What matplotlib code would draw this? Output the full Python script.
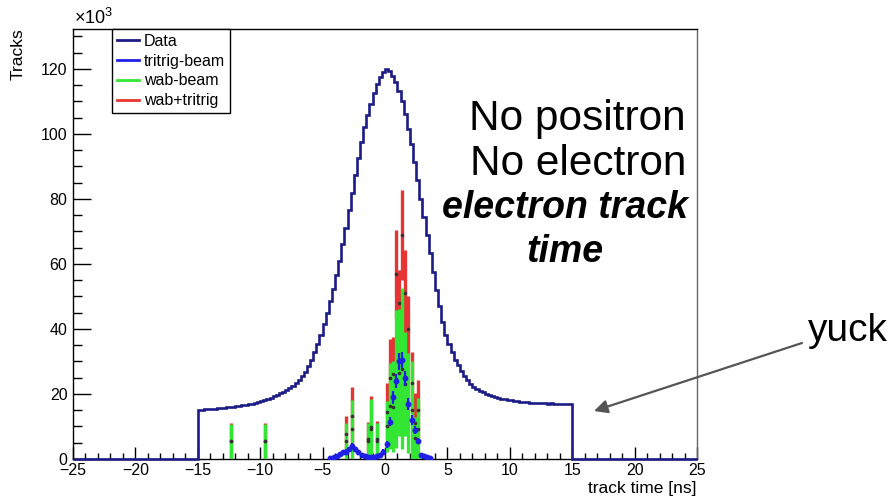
import matplotlib
matplotlib.use('Agg')
import matplotlib.pyplot as plt
from matplotlib.lines import Line2D
import numpy as np

plt.rcParams['font.family'] = ['Liberation Sans', 'DejaVu Sans']
plt.rcParams['mathtext.fontset'] = 'custom'
plt.rcParams['mathtext.rm'] = 'Liberation Sans'

W, H = 893, 498

# data: track time histogram, 0.25 ns bins from -15 to 15 ns, in 10^3 tracks
bin_w = 0.25
data_lo = -15.0
data_counts = [
    15.0, 15.2, 15.3, 15.4, 15.5, 15.5, 15.6, 15.7, 15.8, 15.9,
    16.0, 16.1, 16.2, 16.3, 16.5, 16.6, 16.8, 17.0, 17.2, 17.5,
    17.8, 18.2, 18.5, 18.9, 19.3, 19.7, 20.2, 20.7, 21.3, 21.9,
    22.6, 23.4, 24.3, 25.4, 26.8, 28.6, 30.6, 32.8, 35.3, 38.2,
    41.4, 44.9, 48.5, 52.4, 56.5, 61.0, 66.0, 71.0, 76.5, 81.8,
    87.3, 92.5, 97.6, 102.0, 105.9, 109.3, 112.5, 115.3, 117.6, 119.2,
    120.0, 119.3, 117.9, 116.0, 113.2, 110.0, 106.0, 101.6, 96.8, 91.5,
    85.8, 80.0, 74.5, 68.8, 63.5, 57.6, 52.0, 47.0, 42.3, 38.2,
    35.3, 32.8, 30.6, 28.8, 27.0, 25.5, 24.2, 23.2, 22.3, 21.6,
    21.0, 20.5, 20.1, 19.7, 19.4, 19.1, 18.8, 18.6, 18.4, 18.2,
    18.0, 17.9, 17.7, 17.6, 17.5, 17.4, 17.3, 17.3, 17.2, 17.2,
    17.1, 17.1, 17.0, 17.2, 17.0, 17.0, 17.0, 16.9, 16.9, 16.9,
]

# tritrig-beam MC (bin centre, value, error)
tri_t = [-4.375, -4.125, -3.875, -3.625, -3.375, -3.125, -2.875, -2.625, -2.375,
         -2.125, -1.875, -1.625, -1.375, -1.125, -0.875, -0.625, -0.375, -0.125,
         0.125, 0.375, 0.625, 0.875, 1.125, 1.375, 1.625, 1.875, 2.125, 2.375,
         2.625, 2.875, 3.125, 3.375, 3.625]
tri_val = [0.3, 0.5, 0.8, 1.5, 2.2, 2.3, 3.0, 4.0, 3.0,
           2.0, 1.3, 1.0, 0.6, 0.5, 0.5, 0.8, 1.2, 2.3,
           4.5, 11.5, 19.0, 24.0, 30.0, 30.5, 24.8, 17.0, 12.0, 8.9,
           5.6, 1.2, 0.8, 0.5, 0.3]
tri_err = [0.3, 0.4, 0.5, 0.6, 0.7, 0.7, 0.8, 0.9, 0.8,
           0.7, 0.5, 0.5, 0.4, 0.4, 0.4, 0.5, 0.5, 0.7,
           1.0, 1.5, 2.0, 2.2, 2.5, 2.5, 2.2, 1.8, 1.6, 1.3,
           1.0, 0.5, 0.4, 0.3, 0.3]

# wab-beam MC
wab_t = [-12.375, -9.625, -3.125, -2.625, -1.375, -1.125, -0.625,
         0.125, 0.375, 0.625, 0.875, 1.125, 1.375, 1.625, 1.875, 2.125, 2.375, 2.625]
wab_val = [5.4, 5.4, 5.5, 9.1, 5.5, 9.3, 5.5,
           10.0, 16.2, 16.0, 24.6, 26.5, 27.8, 23.1, 17.2, 15.0, 6.5, 9.3]
wab_err = [5.4, 5.4, 5.5, 9.1, 5.5, 9.3, 5.5,
           7.7, 13.2, 14.0, 21.2, 19.5, 24.8, 16.1, 15.3, 15.0, 6.5, 9.4]

# wab+tritrig MC
sum_t = [-12.375, -9.625, -3.125, -2.625, -1.375, -1.125, -0.625,
         0.125, 0.375, 0.625, 0.875, 1.125, 1.375, 1.625, 1.875, 2.125, 2.375, 2.625]
sum_val = [5.5, 5.5, 7.75, 13.15, 6.0, 9.95, 6.05,
           14.5, 25.0, 26.3, 57.0, 48.0, 69.0, 51.0, 40.0, 23.5, 11.0, 15.0]
sum_err = [5.45, 5.45, 5.55, 9.15, 5.5, 9.45, 5.55,
           8.8, 12.0, 11.3, 13.5, 10.0, 13.9, 13.3, 10.0, 9.5, 9.2, 9.3]

navy = '#1c1c86'
blue = '#1f1fe6'
green = '#33e633'
red = '#e63333'

fig = plt.figure(figsize=(W / 100, H / 100), dpi=100, facecolor='white')
ax = fig.add_axes([73 / W, 1 - 459 / H, (697 - 73) / W, (459 - 29) / H])

edges = np.linspace(-25, 25, 201)
counts = np.zeros(len(edges) - 1)
i0 = int(round((data_lo + 25) / bin_w))
counts[i0:i0 + len(data_counts)] = data_counts

# MC points: red underneath, green, then blue on top
ax.errorbar(sum_t, sum_val, yerr=sum_err, fmt='none', ecolor=red, elinewidth=2.4, zorder=2)
ax.errorbar(wab_t, wab_val, yerr=wab_err, fmt='none', ecolor=green, elinewidth=2.4, zorder=3)
ax.plot(sum_t, sum_val, ls='none', marker='o', ms=1.6, color='#333333', zorder=3.5)
ax.plot(wab_t, wab_val, ls='none', marker='o', ms=1.6, color='#333333', zorder=3.5)
ax.errorbar(tri_t, tri_val, yerr=tri_err, fmt='o', ms=3.2, color=blue, ecolor=blue,
            elinewidth=1.6, zorder=4)

ax.stairs(counts, edges, color=navy, lw=1.9, zorder=5, clip_on=False)

ax.set_xlim(-25, 25)
ax.set_ylim(0, 132.3)
ax.set_xticks(np.arange(-25, 26, 5))
ax.set_xticklabels([f'{v}'.replace('-', '\u2212') for v in range(-25, 26, 5)])
ax.set_xticks(np.arange(-25, 26, 1), minor=True)
ax.set_yticks(np.arange(0, 121, 20))
ax.set_yticks(np.arange(0, 131, 5), minor=True)
ax.tick_params(axis='both', which='both', direction='in', top=False, right=False,
               labelsize=11.5, width=1, color='black')
ax.tick_params(axis='x', which='major', length=9, pad=3)
ax.tick_params(axis='x', which='minor', length=4.5)
ax.tick_params(axis='y', which='major', length=13, pad=4)
ax.tick_params(axis='y', which='minor', length=6.5)
for s in ['left', 'top', 'bottom']:
    ax.spines[s].set_color('black')
    ax.spines[s].set_linewidth(1)
ax.spines['right'].set_color('#666666')
ax.spines['right'].set_linewidth(1)

fig.text(697 / W, 1 - 488 / H, 'track time [ns]', ha='right', va='center', fontsize=12.5)
fig.text(18 / W, 1 - 28 / H, 'Tracks', rotation=90, ha='center', va='top', fontsize=12.5)
fig.text(74 / W, 1 - 18 / H, r'$\times$10$^{3}$', ha='left', va='center', fontsize=13)

handles = [Line2D([], [], color=navy, lw=2),
           Line2D([], [], color=blue, lw=2),
           Line2D([], [], color=green, lw=2),
           Line2D([], [], color=red, lw=2)]
leg = ax.legend(handles, ['Data', 'tritrig-beam', 'wab-beam', 'wab+tritrig'],
                loc='upper left', bbox_to_anchor=(112 / W, 1 - 29 / H),
                bbox_transform=fig.transFigure, fontsize=11.5, frameon=True,
                fancybox=False, edgecolor='black', framealpha=1, borderaxespad=0,
                handlelength=1.4, handletextpad=0.3, labelspacing=0.3,
                borderpad=0.3)
leg.get_frame().set_linewidth(1)
leg.set_zorder(10)

fig.text(577 / W, 1 - 130 / H, 'No positron', ha='center', va='baseline', fontsize=30.5)
fig.text(578 / W, 1 - 175 / H, 'No electron', ha='center', va='baseline', fontsize=30.5)
fig.text(565 / W, 1 - 218 / H, 'electron track', ha='center', va='baseline',
         fontsize=27, fontweight='bold', fontstyle='italic')
fig.text(565 / W, 1 - 262 / H, 'time', ha='center', va='baseline',
         fontsize=27, fontweight='bold', fontstyle='italic')
fig.text(848 / W, 1 - 341 / H, 'yuck', ha='center', va='baseline', fontsize=28)

ax.annotate('', xy=(594, H - 411), xytext=(802, H - 343),
            xycoords='figure pixels', textcoords='figure pixels',
            arrowprops=dict(arrowstyle='-|>', color='#555555', lw=1.6,
                            mutation_scale=20, shrinkA=0, shrinkB=0),
            annotation_clip=False)

fig.savefig('out.png', dpi=100, facecolor='white')
